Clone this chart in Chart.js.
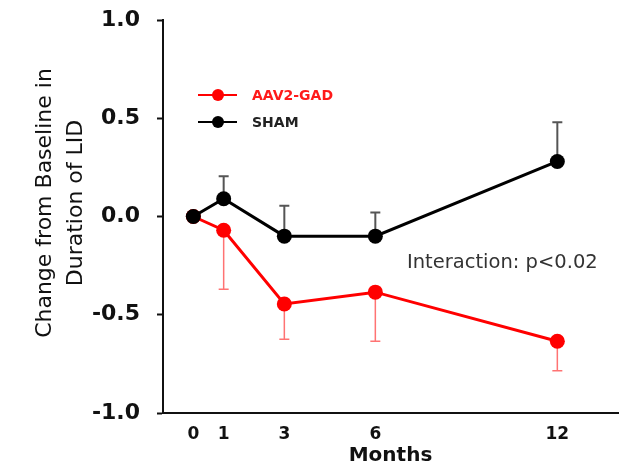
<!DOCTYPE html>
<html lang="en">
<head>
    <meta charset="UTF-8">
    <title>Change in duration of LID</title>
    <script src="https://cdn.jsdelivr.net/npm/chart.js"></script>
    <style>
        body { margin: 0; background: #fff; }
        #wrap { width: 626px; height: 474px; }
    </style>
</head>
<body>
    <div id="wrap"><canvas id="lidChart" width="626" height="474"></canvas></div>

    <script>
    // data
    const months = [0, 1, 3, 6, 12];
    const monthTicks = [0, 1, 3, 6, 12];
    const shamMean = [0, 0.09, -0.10, -0.10, 0.28];
    const shamSem = [0, 0.115, 0.155, 0.12, 0.20];
    const gadMean = [0, -0.07, -0.445, -0.385, -0.635];
    const gadSem = [0, 0.30, 0.18, 0.25, 0.15];
    const yTicks = [-1.0, -0.5, 0.0, 0.5, 1.0];

    const FONT = '"DejaVu Sans", sans-serif';

    // one-sided error bars: SHAM upwards, AAV2-GAD downwards
    const errorBarPlugin = {
        id: 'errorBars',
        beforeDatasetsDraw(chart) {
            const { ctx, scales: { x, y } } = chart;
            ctx.save();
            chart.data.datasets.forEach(ds => {
                ctx.strokeStyle = ds.errColor;
                ctx.lineWidth = ds.errWidth;
                ds.data.forEach((pt, i) => {
                    const err = ds.sem[i];
                    if (!err) return;
                    const px = x.getPixelForValue(pt.x);
                    const y0 = y.getPixelForValue(pt.y);
                    const y1 = y.getPixelForValue(pt.y + ds.errDir * err);
                    ctx.beginPath();
                    ctx.moveTo(px, y0);
                    ctx.lineTo(px, y1);
                    ctx.moveTo(px - 5, y1);
                    ctx.lineTo(px + 5, y1);
                    ctx.stroke();
                });
            });
            ctx.restore();
        }
    };

    // axis title, legend and annotation
    const textPlugin = {
        id: 'extraText',
        afterDraw(chart) {
            const { ctx, chartArea } = chart;
            ctx.save();

            // y title, two rotated lines
            ctx.fillStyle = '#111';
            ctx.font = '22px ' + FONT;
            ctx.textAlign = 'center';
            ctx.textBaseline = 'middle';
            ctx.translate(45, 203);
            ctx.rotate(-Math.PI / 2);
            ctx.fillText('Change from Baseline in', 0, 0);
            ctx.fillText('Duration of LID', 0, 31);
            ctx.setTransform(1, 0, 0, 1, 0, 0);

            // legend
            const legendItems = [chart.data.datasets[1], chart.data.datasets[0]];
            legendItems.forEach((ds, i) => {
                const ly = chartArea.top + 75 + i * 27;
                const lx = chartArea.left + 35;
                ctx.strokeStyle = ds.borderColor;
                ctx.lineWidth = 2;
                ctx.beginPath();
                ctx.moveTo(lx, ly);
                ctx.lineTo(lx + 39, ly);
                ctx.stroke();
                ctx.fillStyle = ds.borderColor;
                ctx.beginPath();
                ctx.arc(lx + 20, ly, 6, 0, Math.PI * 2);
                ctx.fill();
                ctx.fillStyle = ds.legendText;
                ctx.font = 'bold 14px ' + FONT;
                ctx.textAlign = 'left';
                ctx.fillText(ds.label, lx + 54, ly + 1);
            });

            // interaction note
            ctx.fillStyle = '#333';
            ctx.font = '19.5px ' + FONT;
            ctx.textAlign = 'left';
            ctx.textBaseline = 'middle';
            ctx.fillText('Interaction: p<0.02', chartArea.left + 244, 263);

            ctx.restore();
        }
    };

    const ctx = document.getElementById('lidChart').getContext('2d');
    new Chart(ctx, {
        type: 'line',
        data: {
            datasets: [
                {
                    label: 'SHAM',
                    data: months.map((m, i) => ({ x: m, y: shamMean[i] })),
                    sem: shamSem,
                    errDir: 1,
                    errColor: '#555',
                    errWidth: 2,
                    legendText: '#222',
                    borderColor: '#000',
                    backgroundColor: '#000',
                    borderWidth: 3,
                    pointRadius: 7.5,
                    pointBorderWidth: 0,
                    tension: 0
                },
                {
                    label: 'AAV2-GAD',
                    data: months.map((m, i) => ({ x: m, y: gadMean[i] })),
                    sem: gadSem,
                    errDir: -1,
                    errColor: 'rgba(255,0,0,0.55)',
                    errWidth: 1.5,
                    legendText: '#ff1a1a',
                    borderColor: '#ff0000',
                    backgroundColor: '#ff0000',
                    borderWidth: 3,
                    pointRadius: 7.5,
                    pointBorderWidth: 0,
                    tension: 0
                }
            ]
        },
        options: {
            responsive: false,
            animation: false,
            layout: { padding: { top: 20, right: 8, left: 0, bottom: 0 } },
            plugins: {
                legend: { display: false },
                tooltip: { enabled: false }
            },
            scales: {
                x: {
                    type: 'linear',
                    min: -1,
                    max: 14,
                    afterFit(scale) {
                        scale.height = 61;
                        scale.paddingLeft = 0;
                        scale.paddingRight = 0;
                    },
                    afterBuildTicks(axis) {
                        axis.ticks = monthTicks.map(v => ({ value: v }));
                    },
                    grid: { display: false, drawTicks: false },
                    border: { display: true, color: '#111', width: 2 },
                    ticks: {
                        padding: 11,
                        color: '#111',
                        font: { family: FONT, size: 17, weight: 'bold' },
                        callback: v => String(v)
                    },
                    title: {
                        display: true,
                        text: 'Months',
                        color: '#111',
                        padding: { top: 0, bottom: 6 },
                        font: { family: FONT, size: 20, weight: 'bold' }
                    }
                },
                y: {
                    min: -1,
                    max: 1,
                    afterFit(scale) {
                        scale.width = 163;
                        scale.paddingTop = 0;
                        scale.paddingBottom = 0;
                    },
                    afterBuildTicks(axis) {
                        axis.ticks = yTicks.map(v => ({ value: v }));
                    },
                    grid: {
                        drawOnChartArea: false,
                        drawTicks: true,
                        tickLength: 6,
                        tickColor: '#111',
                        tickWidth: 2
                    },
                    border: { display: true, color: '#111', width: 2 },
                    ticks: {
                        padding: 17,
                        color: '#111',
                        font: { family: FONT, size: 22, weight: 'bold' },
                        callback: v => v.toFixed(1)
                    }
                }
            }
        },
        plugins: [errorBarPlugin, textPlugin]
    });
    </script>
</body>
</html>
